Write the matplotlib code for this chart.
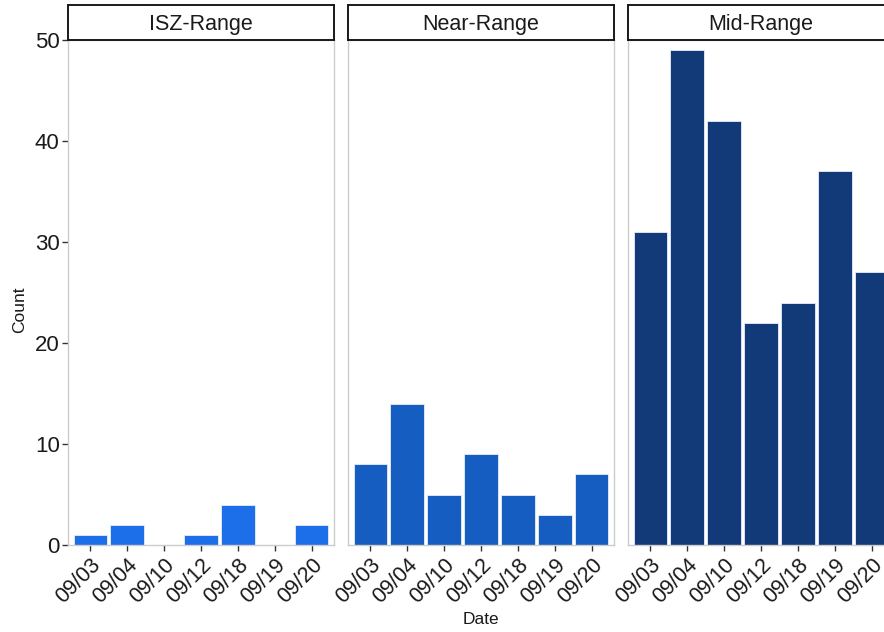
import numpy as np
import matplotlib.pyplot as plt

plt.rcParams['font.family'] = ['Liberation Sans', 'DejaVu Sans']

dates = ['09/03', '09/04', '09/10', '09/12', '09/18', '09/19', '09/20']
panels = ['ISZ-Range', 'Near-Range', 'Mid-Range']
isz = [1, 2, 0, 1, 4, 0, 2]
near = [8, 14, 5, 9, 5, 3, 7]
mid = [31, 49, 42, 22, 24, 37, 27]
counts = [isz, near, mid]
colors = ['#1C6FE8', '#165DC2', '#123A78']

W, H = 884, 632
fig = plt.figure(figsize=(W / 100, H / 100), dpi=100)

lefts = [68, 348, 628]
pw = 266
bottom = 545
top = 40
strip_top = 5

x = np.arange(len(dates))
for i in range(3):
    ax = fig.add_axes([lefts[i] / W, (H - bottom) / H, pw / W, (bottom - top) / H])
    ax.bar(x, counts[i], width=0.9, color=colors[i], edgecolor='#e8eefa', linewidth=0.6)
    ax.set_xlim(-0.6, len(dates) - 0.4)
    ax.set_ylim(0, 50)
    ax.set_yticks([0, 10, 20, 30, 40, 50])
    ax.set_xticks(x)
    ax.set_xticklabels(dates, rotation=45, ha='right', va='top', rotation_mode='anchor',
                       fontsize=15.5, color='#1a1a1a')
    for s in ax.spines.values():
        s.set_color('#cccccc')
        s.set_linewidth(1.0)
    ax.tick_params(axis='x', length=4, width=1, color='#333333', pad=3)
    if i == 0:
        ax.tick_params(axis='y', length=4, width=1, color='#333333', labelsize=16,
                       labelcolor='#1a1a1a', pad=2)
    else:
        ax.tick_params(axis='y', length=0, labelleft=False)

    sax = fig.add_axes([lefts[i] / W, (H - top) / H, pw / W, (top - strip_top) / H])
    sax.set_xticks([])
    sax.set_yticks([])
    sax.set_facecolor('white')
    for s in sax.spines.values():
        s.set_color('#1a1a1a')
        s.set_linewidth(1.4)
    sax.text(0.5, 0.45, panels[i], ha='center', va='center', fontsize=15.5,
             color='#1a1a1a', transform=sax.transAxes)

fig.text(20 / W, 1 - 310 / H, 'Count', rotation=90, ha='center', va='center',
         fontsize=12.5, color='#1a1a1a')
fig.text(481 / W, 1 - 620 / H, 'Date', ha='center', va='center',
         fontsize=12.5, color='#1a1a1a')

fig.savefig('out.png', dpi=100)
